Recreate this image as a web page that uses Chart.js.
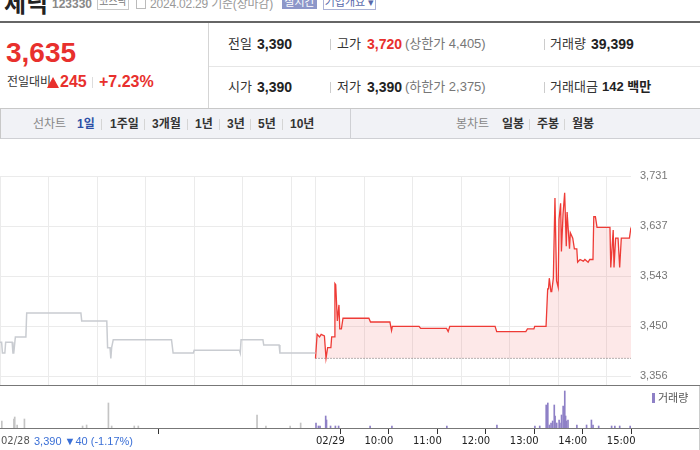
<!DOCTYPE html>
<html>
<head>
<meta charset="utf-8">
<script src="https://cdn.jsdelivr.net/npm/chart.js@4.4.1/dist/chart.umd.min.js"></script>
<style>
  body { margin: 0; width: 700px; height: 450px; overflow: hidden; position: relative; background: #fff;
         font-family: "Liberation Sans", "Noto Sans CJK KR", sans-serif; color: #333; }
  .t { position: absolute; white-space: nowrap; line-height: 16px; }
  .b { font-weight: bold; }
  .sep { position: absolute; width: 1px; height: 11px; background: #ccc; }
  .line { position: absolute; }
  .tri { display: inline-block; width: 0; height: 0; border-left: 6px solid transparent; border-right: 6px solid transparent;
         border-bottom: 11px solid #e8302d; margin-right: 1px; vertical-align: -1px; }
  #priceBox { position: absolute; left: 0; top: 140px; width: 700px; height: 261px; }
  #volBox { position: absolute; left: 0; top: 386px; width: 700px; height: 64px; }
</style>
</head>
<body>
<!-- top row, cut off by the crop -->
<div class="t b" style="left:4px;top:-8px;font-size:24px;line-height:24px;color:#222;">제닉</div>
<div class="t b" style="left:52px;top:-4px;font-size:12px;color:#888;">123330</div>
<div class="t" style="left:97px;top:-6px;width:30px;height:14px;border:1px solid #c8c8c8;font-size:10px;line-height:14px;text-align:center;color:#777;">코스닥</div>
<div class="line" style="left:136px;top:-1px;width:8px;height:8px;border:1px solid #bbb;"></div>
<div class="t" style="left:150px;top:-4px;font-size:12px;color:#999;letter-spacing:-0.2px;">2024.02.29 기준(장마감)</div>
<div class="t" style="left:282px;top:-5px;width:35px;height:14px;background:#8d97c9;color:#fff;font-size:11px;line-height:14px;text-align:center;">실시간</div>
<div class="t" style="left:323px;top:-6px;width:51px;height:14px;border:1px solid #aab2d6;color:#5868aa;font-size:11px;line-height:14px;text-align:center;">기업개요 ▾</div>

<!-- summary -->
<div class="line" style="left:0;top:21px;width:700px;height:2px;background:#666;"></div>
<div class="line" style="left:208px;top:23px;width:1px;height:85px;background:#d5d5d5;"></div>
<div class="line" style="left:209px;top:66px;width:491px;height:1px;background:#e6e6e6;"></div>
<div class="line" style="left:0;top:108px;width:700px;height:1px;background:#c8c8c8;"></div>

<div class="t b" style="left:6px;top:39px;font-size:28px;line-height:28px;color:#e8302d;">3,635</div>
<div class="t" style="left:7px;top:74px;font-size:12px;color:#333;">전일대비</div>
<div class="t b" style="left:47px;top:73px;font-size:16px;line-height:18px;color:#e8302d;"><span class="tri"></span>245</div>
<div class="sep" style="left:92px;top:77px;background:#ddd;"></div>
<div class="t b" style="left:99px;top:73px;font-size:16px;line-height:18px;color:#e8302d;">+7.23%</div>

<div class="t" style="left:228px;top:36px;font-size:13px;">전일</div>
<div class="t b" style="left:257px;top:36px;font-size:14px;color:#222;">3,390</div>
<div class="sep" style="left:330px;top:39px;"></div>
<div class="t" style="left:337px;top:36px;font-size:13px;">고가</div>
<div class="t b" style="left:367px;top:36px;font-size:14px;color:#e8302d;">3,720</div>
<div class="t" style="left:405px;top:36px;font-size:13px;color:#777;">(상한가 4,405)</div>
<div class="sep" style="left:544px;top:39px;"></div>
<div class="t" style="left:550px;top:36px;font-size:13px;">거래량</div>
<div class="t b" style="left:591px;top:36px;font-size:14px;color:#222;">39,399</div>

<div class="t" style="left:228px;top:79px;font-size:13px;">시가</div>
<div class="t b" style="left:257px;top:79px;font-size:14px;color:#222;">3,390</div>
<div class="sep" style="left:330px;top:82px;"></div>
<div class="t" style="left:337px;top:79px;font-size:13px;">저가</div>
<div class="t b" style="left:367px;top:79px;font-size:14px;color:#222;">3,390</div>
<div class="t" style="left:405px;top:79px;font-size:13px;color:#777;">(하한가 2,375)</div>
<div class="sep" style="left:544px;top:82px;"></div>
<div class="t" style="left:550px;top:79px;font-size:13px;">거래대금</div>
<div class="t b" style="left:602px;top:79px;font-size:13px;color:#222;">142 백만</div>

<!-- tab bar -->
<div class="line" style="left:0;top:109px;width:699px;height:29px;background:#f1f2f6;border-left:1px solid #c8c8c8;border-bottom:1px solid #cfd0d4;"></div>
<div class="line" style="left:350px;top:109px;width:1px;height:29px;background:#cfd0d4;"></div>
<div class="t" style="left:33px;top:116px;font-size:12px;color:#888;">선차트</div>
<div class="t b" style="left:77px;top:116px;font-size:12px;color:#2d4fa6;">1일</div>
<div class="sep" style="left:101px;top:119px;background:#d5d5d5;"></div>
<div class="t b" style="left:110px;top:116px;font-size:12px;color:#333;">1주일</div>
<div class="sep" style="left:144px;top:119px;background:#d5d5d5;"></div>
<div class="t b" style="left:152px;top:116px;font-size:12px;color:#333;">3개월</div>
<div class="sep" style="left:187px;top:119px;background:#d5d5d5;"></div>
<div class="t b" style="left:195px;top:116px;font-size:12px;color:#333;">1년</div>
<div class="sep" style="left:219px;top:119px;background:#d5d5d5;"></div>
<div class="t b" style="left:227px;top:116px;font-size:12px;color:#333;">3년</div>
<div class="sep" style="left:250px;top:119px;background:#d5d5d5;"></div>
<div class="t b" style="left:258px;top:116px;font-size:12px;color:#333;">5년</div>
<div class="sep" style="left:282px;top:119px;background:#d5d5d5;"></div>
<div class="t b" style="left:290px;top:116px;font-size:12px;color:#333;">10년</div>
<div class="t" style="left:456px;top:116px;font-size:12px;color:#888;">봉차트</div>
<div class="t b" style="left:502px;top:116px;font-size:12px;color:#333;">일봉</div>
<div class="sep" style="left:529px;top:119px;background:#d5d5d5;"></div>
<div class="t b" style="left:537px;top:116px;font-size:12px;color:#333;">주봉</div>
<div class="sep" style="left:564px;top:119px;background:#d5d5d5;"></div>
<div class="t b" style="left:572px;top:116px;font-size:12px;color:#333;">월봉</div>

<div id="priceBox"><canvas id="priceChart"></canvas></div>
<div id="volBox"><canvas id="volChart"></canvas></div>

<!-- axis lines across the full width -->
<div class="line" style="left:0;top:385px;width:700px;height:1px;background:#777;"></div>
<div class="line" style="left:0;top:428px;width:700px;height:1px;background:#777;"></div>
<div class="line" style="left:699px;top:386px;width:1px;height:64px;background:#ccc;"></div>

<div class="line" style="left:652px;top:393px;width:3px;height:10px;background:#8e80c6;"></div>
<div class="t" style="left:658px;top:390px;font-size:11px;color:#555;">거래량</div>
<div class="t" style="left:34px;top:433px;font-size:11px;color:#3a6fd6;">3,390 ▼40 (-1.17%)</div>

<script>
/* minutes from 09:00 of 02/28, 02/29 starts at 390 */
const prevMinutes = [0, 2, 3, 6, 7, 15, 16, 17, 19, 32, 33, 100, 101, 132, 133, 136, 137, 138, 140, 212, 214, 239, 240, 296, 297, 298, 325, 326, 345, 346, 390];
const prevPrices  = [3420, 3420, 3400, 3400, 3420, 3420, 3400, 3400, 3430, 3430, 3475, 3475, 3460, 3460, 3410, 3410, 3390, 3410, 3425, 3425, 3400, 3400, 3405, 3405, 3400, 3425, 3425, 3415, 3415, 3400, 3400];

const todayMinutes = [390, 392, 395, 397, 401, 403, 405, 409, 410, 413, 414, 415, 417, 419, 420, 422, 424, 456, 458, 482, 484, 485, 518, 520, 552, 554, 556, 612, 614, 650, 652, 660, 661, 675, 677, 678, 679, 681, 682, 684, 686, 688, 690, 691, 693, 694, 696, 698, 700, 701, 704, 705, 708, 710, 713, 714, 717, 721, 723, 727, 729, 733, 734, 736, 738, 754, 755, 758, 759, 761, 764, 766, 768, 778, 780];
const todayPrices  = [3390, 3435, 3430, 3435, 3432, 3390, 3410, 3410, 3430, 3430, 3530, 3528, 3460, 3490, 3445, 3445, 3465, 3465, 3458, 3458, 3442, 3450, 3450, 3446, 3446, 3440, 3450, 3450, 3440, 3440, 3445, 3445, 3450, 3450, 3520, 3520, 3540, 3515, 3515, 3540, 3690, 3535, 3523, 3650, 3680, 3590, 3660, 3700, 3600, 3664, 3595, 3625, 3615, 3595, 3595, 3570, 3575, 3572, 3575, 3570, 3575, 3575, 3655, 3655, 3635, 3635, 3560, 3630, 3560, 3615, 3615, 3560, 3615, 3615, 3635];

const prevClose = 3390;

const prevVolMinutes = [1, 16, 17, 20, 29, 101, 106, 133, 137, 165, 170, 317, 328, 358, 371];
const prevVols       = [490, 630, 770, 210, 630, 140, 210, 1750, 140, 140, 140, 910, 140, 140, 350];
const todayVolMinutes = [390, 393, 395, 402, 403, 408, 414, 418, 457, 484, 552, 614, 661, 667, 675, 677, 679, 681, 683, 685, 686, 688, 691, 692, 694, 696, 698, 699, 700, 702, 713, 725, 731, 733, 740, 756, 760, 766, 779];
const todayVols       = [350, 140, 140, 840, 560, 140, 140, 140, 140, 140, 140, 210, 140, 140, 1610, 1750, 210, 350, 490, 1610, 840, 350, 560, 350, 910, 1540, 2590, 840, 490, 560, 210, 210, 560, 210, 140, 140, 140, 140, 140];

const priceTicks = [3356.25, 3450, 3543.75, 3637.5, 3731.25];
const gridMinutes = [0, 60, 120, 180, 240, 300, 360, 390, 450, 510, 570, 630, 690, 750];
const labelMinutes = [0, 390, 450, 510, 570, 630, 690, 750];
const timeLabels = ['02/28', '02/29', '10:00', '11:00', '12:00', '13:00', '14:00', '15:00'];

const pts = (xs, ys) => xs.map((x, i) => ({ x: x, y: ys[i] }));
const axisWidth = s => { s.width = 69; };

const priceChart = new Chart(document.getElementById('priceChart'), {
  type: 'line',
  data: {
    datasets: [
      { data: pts(prevMinutes, prevPrices), borderColor: '#c9ccd1', borderWidth: 1.5, pointRadius: 0, fill: false },
      { data: pts(todayMinutes, todayPrices), borderColor: '#ee3b36', borderWidth: 1.3, pointRadius: 0,
        fill: { value: prevClose }, backgroundColor: 'rgba(240, 110, 110, 0.16)' },
      { data: pts([390, 780], [prevClose, prevClose]), borderColor: '#666', borderWidth: 1, borderDash: [1, 2], pointRadius: 0, fill: false }
    ]
  },
  options: {
    responsive: true, maintainAspectRatio: false, animation: false,
    layout: { padding: { top: 36, left: 0, right: 0, bottom: 0 } },
    plugins: { legend: { display: false }, tooltip: { enabled: false } },
    scales: {
      x: {
        type: 'linear', min: 0, max: 780,
        afterBuildTicks: s => { s.ticks = gridMinutes.map(v => ({ value: v })); },
        afterFit: s => { s.height = 0; },
        ticks: { display: false },
        grid: { color: '#ebebeb', drawTicks: false },
        border: { display: false }
      },
      y: {
        position: 'right', min: 3339.375, max: 3731.25,
        afterBuildTicks: s => { s.ticks = priceTicks.map(v => ({ value: v })); },
        afterFit: axisWidth,
        ticks: { color: '#777', padding: 9, font: { family: 'Liberation Sans', size: 11 },
                 callback: v => Math.floor(v).toLocaleString('en-US') },
        grid: { color: '#ebebeb', drawTicks: false },
        border: { display: false }
      }
    }
  }
});

const volChart = new Chart(document.getElementById('volChart'), {
  type: 'bar',
  data: {
    datasets: [
      { data: pts(prevVolMinutes, prevVols), backgroundColor: '#c4c4c4', barThickness: 1, grouped: false },
      { data: pts(todayVolMinutes, todayVols), backgroundColor: '#8e80c6', barThickness: 1, grouped: false }
    ]
  },
  options: {
    responsive: true, maintainAspectRatio: false, animation: false,
    layout: { padding: { top: 2, left: 0, right: 0, bottom: 0 } },
    plugins: { legend: { display: false }, tooltip: { enabled: false } },
    scales: {
      x: {
        type: 'linear', min: 0, max: 780, offset: false,
        afterBuildTicks: s => { s.ticks = labelMinutes.map(v => ({ value: v })); },
        afterFit: s => { s.height = 22; },
        ticks: { align: 'start', padding: 1, maxRotation: 0, autoSkip: false,
                 color: (c) => c.index === 0 ? '#555' : '#222',
                 font: { family: 'DejaVu Sans', size: 10 },
                 callback: (v, i) => timeLabels[i] },
        grid: { drawOnChartArea: false, tickLength: 6, color: '#333' },
        border: { display: false }
      },
      y: {
        position: 'right', min: 0, max: 2800,
        afterFit: axisWidth,
        ticks: { display: false },
        grid: { display: false },
        border: { display: false }
      }
    }
  }
});
</script>
</body>
</html>
